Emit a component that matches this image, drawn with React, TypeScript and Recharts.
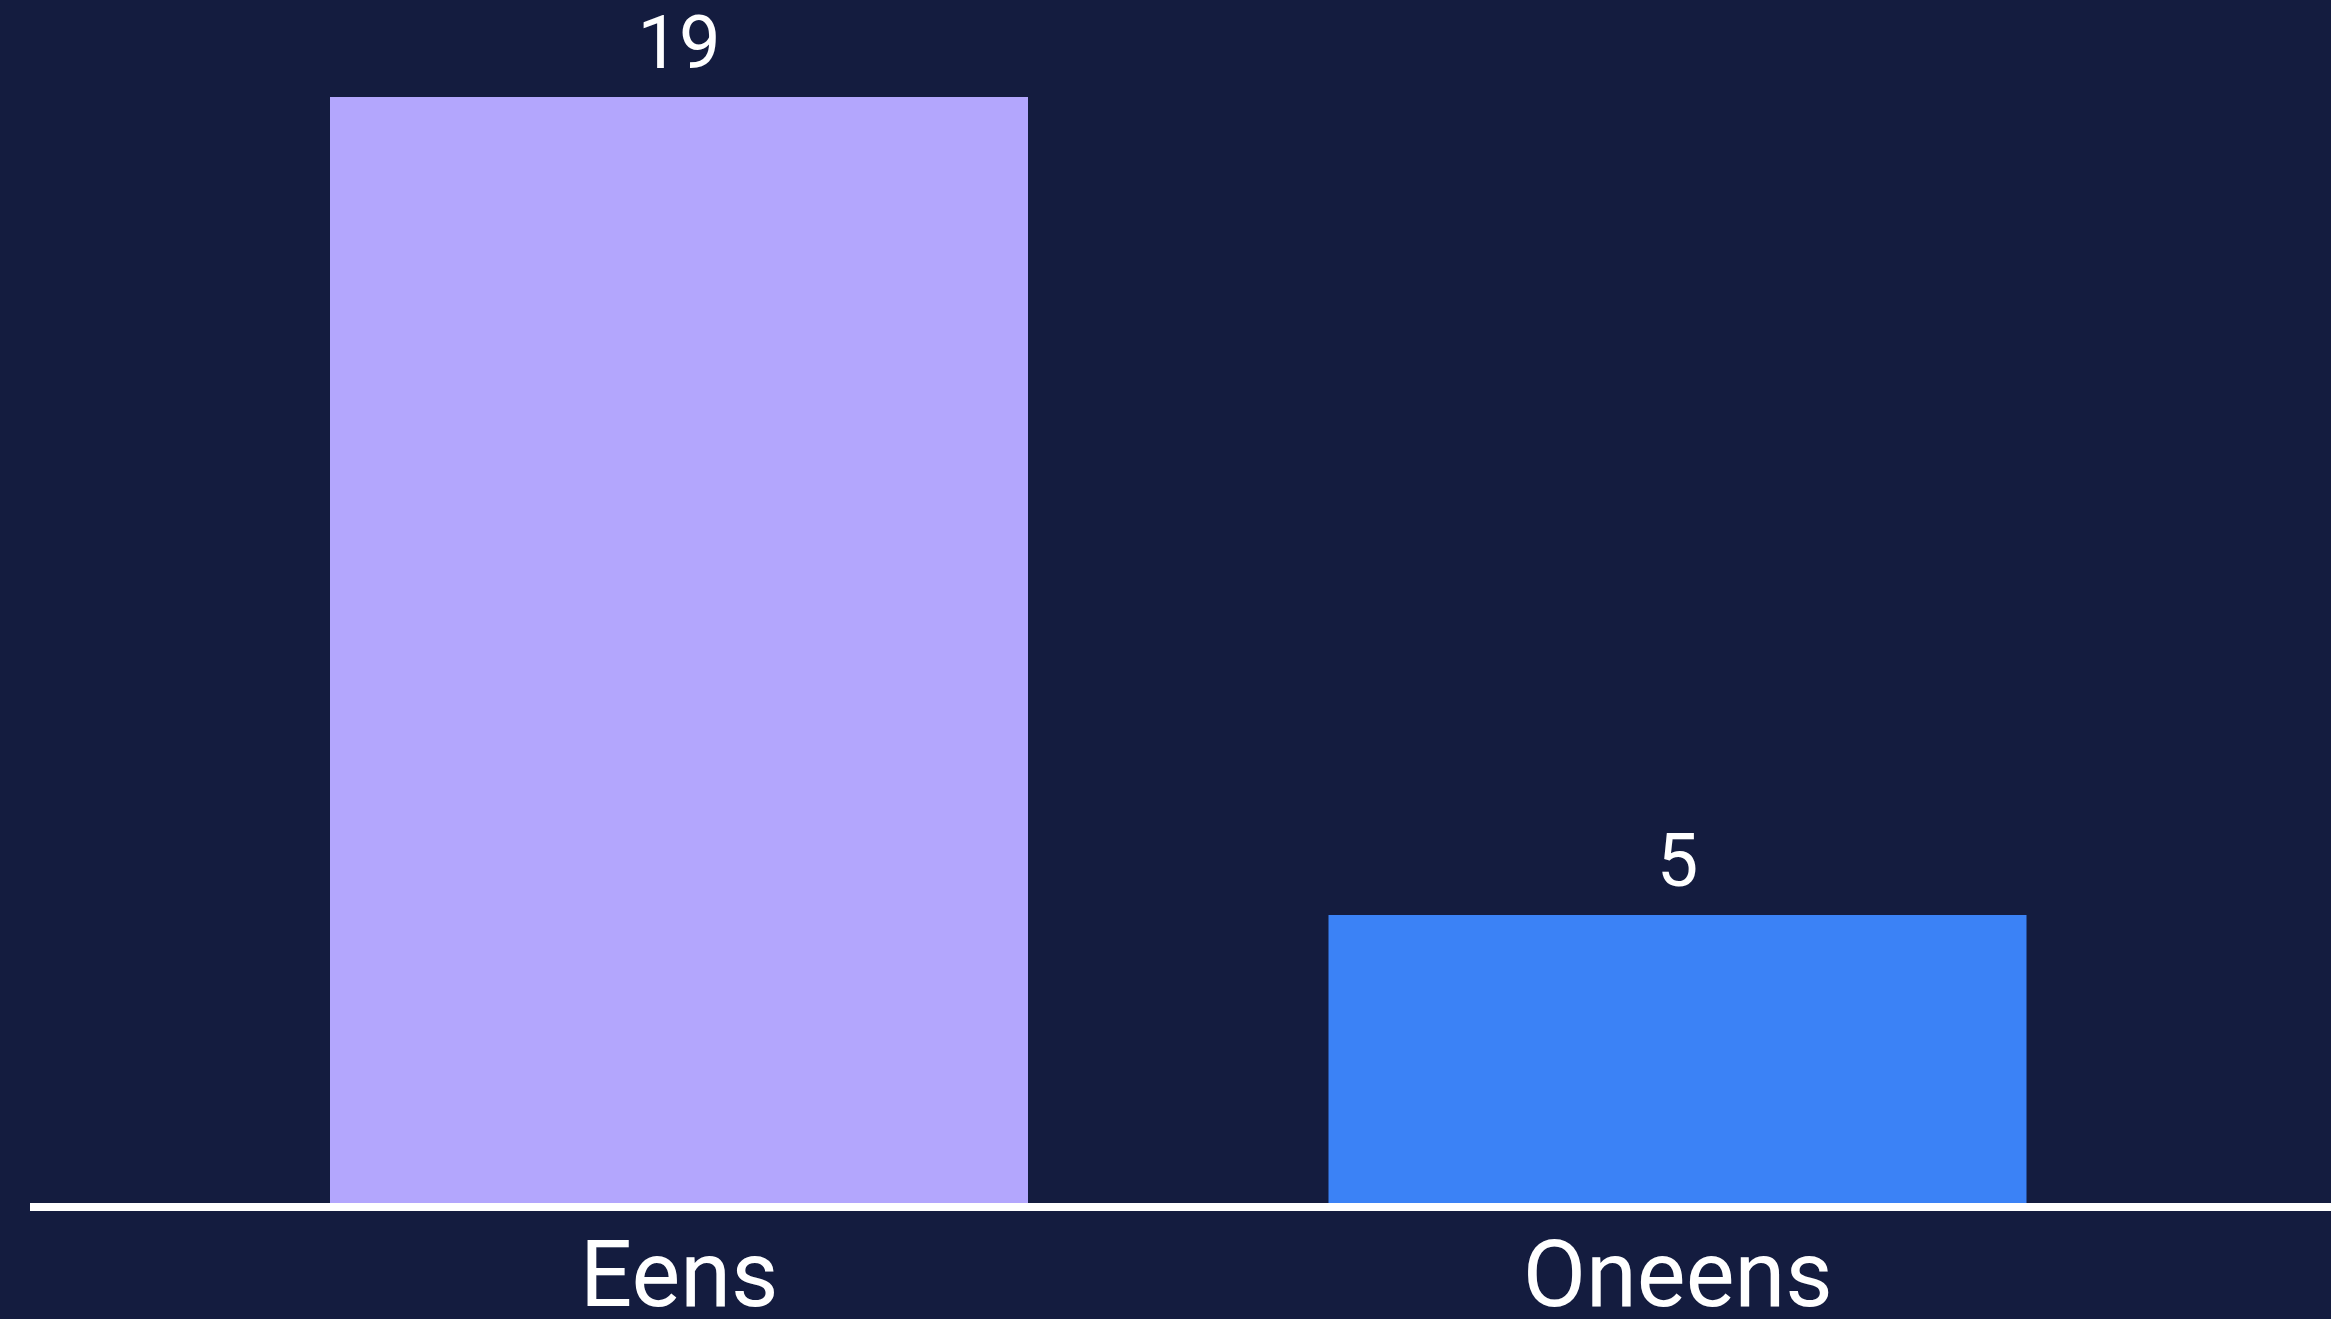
import { Bar, BarChart, Cell, LabelList, XAxis, YAxis } from "recharts"

// Votes per answer
const categories = ["Eens", "Oneens"]
const votes = [19, 5]
const barColors = ["#b3a6fd", "#3b82f6"]

const data = categories.map((name, i) => ({ name, votes: votes[i] }))

export default function App() {
  return (
    <div
      style={{
        position: "fixed",
        top: 0,
        left: 0,
        width: 2331,
        height: 1319,
        background: "#141c3f",
        fontFamily: "Roboto, sans-serif",
      }}
    >
      <BarChart width={2331} height={1319} data={data} margin={{ top: 97, right: 0, left: 30, bottom: 82 }}>
        <XAxis
          dataKey="name"
          axisLine={{ stroke: "#ffffff", strokeWidth: 8 }}
          tickLine={false}
          tickMargin={28}
          padding={{ left: 150, right: 154 }}
          tick={{ fill: "#ffffff", fontSize: 92 }}
        />
        <YAxis hide domain={[0, 19]} />
        <Bar dataKey="votes" barSize={698} isAnimationActive={false}>
          {data.map((entry, index) => (
            <Cell key={`cell-${index}`} fill={barColors[index]} />
          ))}
          <LabelList dataKey="votes" position="top" offset={29} fill="#ffffff" fontSize={74} />
        </Bar>
      </BarChart>
    </div>
  )
}
